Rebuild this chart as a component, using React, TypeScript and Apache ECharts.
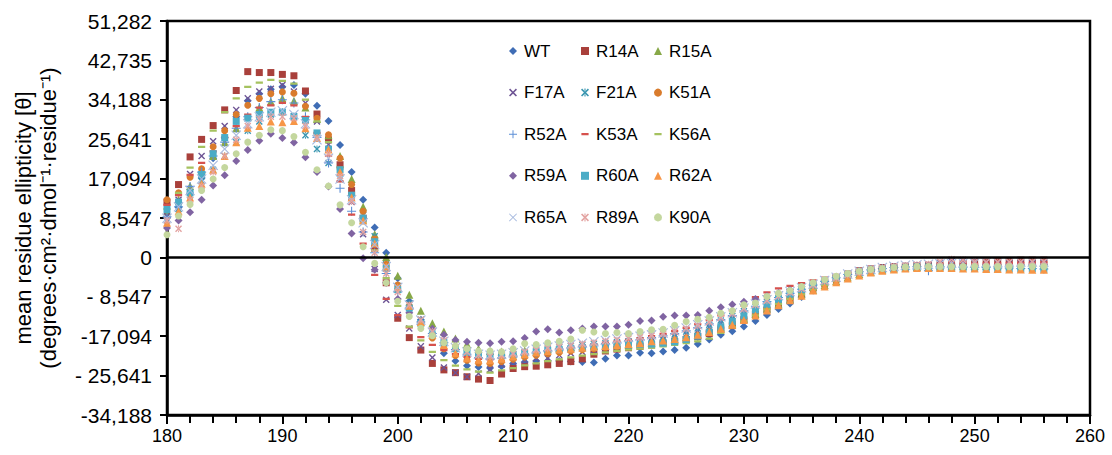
import React, { useEffect, useRef } from "react";
import * as echarts from "echarts";

const wavelengths = [
  180, 181, 182, 183, 184, 185, 186, 187, 188, 189,
  190, 191, 192, 193, 194, 195, 196, 197, 198, 199,
  200, 201, 202, 203, 204, 205, 206, 207, 208, 209,
  210, 211, 212, 213, 214, 215, 216, 217, 218, 219,
  220, 221, 222, 223, 224, 225, 226, 227, 228, 229,
  230, 231, 232, 233, 234, 235, 236, 237, 238, 239,
  240, 241, 242, 243, 244, 245, 246, 247, 248, 249,
  250, 251, 252, 253, 254, 255, 256,
];

// values in thousands of deg·cm²·dmol⁻¹·residue⁻¹
const WT = [
  8.6, 10.8, 13.8, 17.2, 21.5, 26.0, 30.5, 34.0, 35.5, 36.5,
  37.0, 37.4, 35.5, 32.9, 29.6, 24.4, 18.5, 12.5, 6.5, 1.0,
  -4.5, -9.5, -13.5, -17.0, -20.8, -22.5, -23.5, -23.8, -24.0, -23.6,
  -23.0, -22.7, -22.5, -22.4, -22.5, -22.6, -22.7, -22.8, -22.0, -21.3,
  -21.3, -20.7, -20.8, -20.4, -20.1, -19.6, -18.8, -17.8, -16.8, -16.0,
  -15.0, -13.8, -12.5, -11.2, -10.0, -8.6, -7.2, -6.0, -5.0, -4.2,
  -3.5, -3.0, -2.6, -2.4, -2.2, -2.1, -2.0, -2.0, -1.9, -1.9,
  -1.9, -1.8, -1.8, -1.8, -1.7, -1.7, -1.7,
];
const R14A = [
  12.0, 15.8, 21.8, 25.6, 28.6, 32.0, 36.2, 40.3, 40.1, 40.1,
  39.7, 39.4, 36.1, 31.1, 25.5, 20.1, 14.5, 8.5, 2.0, -5.5,
  -13.2, -17.4, -20.1, -23.0, -24.4, -25.0, -25.9, -26.4, -26.7, -25.3,
  -24.1, -23.7, -23.6, -23.3, -23.0, -22.6, -22.0, -21.0, -20.3, -19.9,
  -19.6, -19.3, -19.0, -18.6, -18.2, -17.8, -17.2, -16.5, -15.7, -14.8,
  -13.6, -12.4, -11.4, -10.2, -9.0, -7.8, -6.6, -5.5, -4.5, -3.6,
  -2.9, -2.5, -2.2, -2.0, -1.9, -1.8, -1.7, -1.6, -1.5, -1.3,
  -1.1, -1.0, -0.9, -0.7, -0.6, -0.6, -0.6,
];
const R15A = [
  10.0, 12.5, 15.5, 19.0, 22.0, 25.0, 28.0, 30.5, 32.5, 33.8,
  34.5, 34.0, 32.5, 30.0, 26.5, 22.0, 17.0, 11.0, 5.0, 0.1,
  -4.0, -8.1, -11.6, -14.3, -16.1, -17.6, -18.8, -19.8, -20.3, -20.4,
  -20.3, -20.2, -20.0, -19.8, -19.6, -19.4, -19.3, -19.2, -19.1, -19.0,
  -18.9, -18.7, -18.5, -18.2, -17.8, -17.3, -16.7, -16.0, -15.2, -14.3,
  -13.3, -12.2, -11.1, -10.0, -9.0, -8.0, -7.0, -6.0, -5.1, -4.3,
  -3.6, -3.1, -2.7, -2.4, -2.2, -2.1, -2.0, -1.9, -1.9, -1.8,
  -1.8, -1.8, -1.7, -1.7, -1.7, -1.7, -1.7,
];
const F17A = [
  9.0, 12.5, 18.1, 22.0, 25.2, 28.5, 32.0, 34.5, 36.0, 36.6,
  37.4, 36.0, 33.5, 29.5, 24.5, 18.5, 12.0, 5.0, -2.5, -9.2,
  -12.5, -15.4, -19.3, -21.7, -23.9, -25.0, -25.9, -25.2, -24.3, -23.3,
  -22.7, -22.3, -21.9, -21.9, -21.2, -20.8, -20.5, -20.2, -19.8, -19.4,
  -19.0, -18.6, -18.2, -17.8, -17.2, -16.6, -15.9, -15.1, -14.2, -13.3,
  -12.3, -11.3, -10.3, -9.3, -8.4, -7.5, -6.6, -5.7, -4.8, -4.0,
  -3.3, -2.8, -2.4, -2.1, -1.9, -1.7, -1.6, -1.2, -0.8, -0.6,
  -0.8, -1.0, -1.1, -1.2, -1.2, -1.2, -1.2,
];
const F21A = [
  8.0, 10.5, 13.5, 16.5, 19.0, 22.0, 25.0, 27.5, 29.5, 31.0,
  31.6, 30.7, 26.5, 23.5, 20.5, 17.0, 13.0, 9.2, 4.6, -1.5,
  -6.2, -10.0, -13.5, -16.3, -18.3, -19.8, -20.8, -21.4, -21.6, -21.4,
  -21.0, -20.6, -20.2, -19.8, -19.5, -19.2, -19.0, -18.8, -18.6, -18.4,
  -18.2, -17.9, -17.6, -17.2, -16.7, -16.1, -15.4, -14.6, -13.7, -12.7,
  -11.7, -10.7, -9.7, -8.8, -7.9, -7.0, -6.1, -5.2, -4.4, -3.7,
  -3.1, -2.6, -2.3, -2.1, -2.0, -1.9, -1.9, -1.9, -1.9, -1.9,
  -2.0, -2.0, -2.0, -2.1, -2.1, -2.1, -2.2,
];
const K51A = [
  12.5, 14.0, 17.4, 19.2, 24.0, 27.5, 31.0, 33.0, 34.5, 35.5,
  35.9, 35.6, 32.8, 30.2, 26.6, 21.5, 15.8, 10.0, 4.0, -1.5,
  -6.0, -10.5, -14.5, -17.5, -19.8, -21.3, -22.3, -22.9, -23.0, -22.6,
  -22.1, -21.6, -21.2, -20.9, -20.6, -20.3, -20.0, -19.8, -19.6, -19.4,
  -19.2, -19.0, -18.7, -18.4, -18.0, -17.5, -16.9, -16.1, -15.3, -14.3,
  -13.3, -12.2, -11.1, -10.0, -9.0, -8.0, -7.0, -6.0, -5.1, -4.3,
  -3.6, -3.1, -2.7, -2.4, -2.2, -2.1, -2.0, -2.0, -1.9, -1.9,
  -1.9, -1.9, -1.9, -1.8, -1.8, -1.8, -1.8,
];
const R52A = [
  8.8, 11.0, 15.4, 18.5, 22.0, 25.0, 28.0, 30.5, 32.5, 33.8,
  34.2, 33.5, 30.5, 26.0, 20.5, 15.0, 10.0, 5.5, 1.0, -3.5,
  -7.5, -11.0, -14.0, -16.5, -18.5, -20.0, -21.0, -21.7, -22.0, -21.8,
  -21.4, -21.0, -20.6, -20.2, -19.9, -19.6, -19.3, -19.0, -18.7, -18.4,
  -18.1, -17.8, -17.4, -17.0, -16.5, -15.9, -15.2, -14.4, -13.5, -12.6,
  -11.6, -10.6, -9.6, -8.7, -7.8, -6.9, -6.0, -5.2, -4.4, -3.7,
  -3.1, -2.7, -2.4, -2.2, -2.1, -2.0, -2.9, -2.0, -2.1, -2.1,
  -2.2, -2.2, -2.3, -2.3, -2.4, -2.4, -2.5,
];
const K53A = [
  11.4, 13.5, 17.9, 20.5, 23.0, 26.0, 28.5, 31.0, 32.5, 33.0,
  33.5, 33.0, 30.5, 27.0, 22.0, 16.5, 9.3, 3.0, -3.8, -9.0,
  -12.5, -15.2, -17.3, -19.0, -20.1, -21.0, -21.6, -22.0, -22.1, -21.8,
  -21.4, -21.0, -20.6, -20.2, -19.8, -19.4, -19.1, -18.8, -18.5, -18.2,
  -17.9, -17.5, -17.1, -16.6, -16.0, -15.3, -14.5, -13.6, -12.6, -11.5,
  -10.4, -8.6, -7.6, -6.7, -6.2, -5.6, -5.0, -4.4, -3.8, -3.3,
  -2.9, -2.5, -2.2, -2.0, -1.8, -1.7, -1.6, -1.5, -1.5, -1.4,
  -1.4, -1.3, -1.3, -1.2, -1.2, -1.2, -1.1,
];
const K56A = [
  10.5, 14.0, 19.5, 24.0, 27.5, 31.5, 34.5, 37.0, 37.9, 38.5,
  38.3, 37.7, 34.2, 29.5, 25.0, 19.5, 13.5, 7.5, 1.5, -4.5,
  -10.5, -15.0, -18.0, -20.5, -22.3, -23.5, -24.3, -24.8, -25.0, -24.5,
  -24.0, -23.4, -23.0, -22.5, -22.1, -21.7, -21.3, -21.0, -20.6, -20.3,
  -20.0, -19.8, -19.6, -19.3, -19.0, -18.6, -18.2, -17.6, -16.4, -15.2,
  -13.9, -12.6, -11.3, -10.1, -9.0, -8.0, -7.0, -6.0, -5.1, -4.3,
  -3.6, -3.1, -2.7, -2.4, -2.2, -2.1, -2.0, -1.9, -1.9, -1.8,
  -1.8, -1.8, -1.7, -1.7, -1.7, -1.6, -1.6,
];
const R59A = [
  6.4, 8.0, 9.8, 12.5, 15.6, 17.8, 20.9, 23.3, 25.3, 26.8,
  25.9, 24.9, 21.7, 18.5, 15.4, 10.5, 5.2, -0.2, -2.7, -5.5,
  -9.0, -12.0, -14.0, -15.5, -16.8, -17.9, -18.3, -18.5, -18.6, -18.3,
  -18.2, -17.5, -16.1, -15.6, -16.3, -15.8, -15.4, -15.0, -15.0, -15.0,
  -14.6, -13.8, -13.7, -12.9, -12.6, -12.6, -12.5, -11.6, -10.8, -10.2,
  -9.6, -9.0, -8.4, -7.7, -7.0, -6.3, -5.6, -4.9, -4.2, -3.6,
  -3.1, -2.7, -2.4, -2.2, -2.0, -1.9, -1.8, -1.8, -1.7, -1.7,
  -1.7, -1.6, -1.6, -1.6, -1.6, -1.5, -1.5,
];
const R60A = [
  10.4, 12.0, 14.0, 18.0, 22.5, 26.0, 29.5, 30.2, 31.0, 31.5,
  31.5, 30.5, 29.7, 27.0, 23.5, 19.0, 13.5, 8.5, 3.4, -2.4,
  -7.0, -11.0, -14.3, -16.8, -18.6, -19.8, -20.6, -21.1, -21.4, -21.3,
  -21.1, -20.8, -20.5, -20.2, -20.0, -19.8, -19.6, -19.4, -19.3, -19.1,
  -19.0, -18.9, -18.8, -18.6, -18.3, -17.8, -17.1, -16.2, -15.1, -13.9,
  -12.7, -11.4, -10.2, -9.1, -8.0, -7.0, -6.0, -5.1, -4.4, -3.8,
  -3.3, -2.9, -2.6, -2.4, -2.3, -2.2, -2.2, -2.2, -2.3, -2.3,
  -2.4, -2.4, -2.4, -2.5, -2.5, -2.5, -2.6,
];
const R62A = [
  7.5, 10.0, 13.0, 16.0, 19.0, 22.0, 25.0, 28.1, 28.5, 29.5,
  29.3, 29.6, 28.0, 25.9, 23.4, 18.5, 13.0, 8.0, 3.0, -2.0,
  -6.5, -10.5, -14.0, -16.8, -19.0, -20.8, -21.9, -22.2, -22.3, -22.0,
  -21.5, -21.0, -20.6, -20.3, -20.0, -19.8, -19.6, -19.4, -19.2, -19.0,
  -18.8, -18.6, -18.2, -18.0, -17.7, -17.3, -16.8, -16.2, -15.5, -14.6,
  -13.6, -12.6, -11.5, -10.4, -9.3, -8.3, -7.2, -6.3, -5.4, -4.6,
  -3.9, -3.3, -2.9, -2.6, -2.4, -2.3, -2.3, -2.3, -2.3, -2.4,
  -2.4, -2.5, -2.5, -2.6, -2.6, -2.7, -2.7,
];
const R65A = [
  8.5, 11.0, 14.5, 17.0, 20.0, 23.5, 26.5, 29.0, 30.5, 31.5,
  31.8, 31.0, 29.0, 25.5, 21.5, 17.0, 12.5, 7.5, 2.8, -2.0,
  -6.5, -10.3, -13.6, -16.2, -18.2, -19.6, -20.5, -21.0, -21.2, -21.0,
  -20.7, -20.3, -19.9, -19.5, -19.2, -18.9, -18.6, -18.3, -18.0, -17.7,
  -17.4, -17.1, -16.8, -16.4, -15.9, -15.3, -14.6, -13.8, -12.9, -12.0,
  -11.0, -10.1, -9.2, -8.3, -7.4, -6.6, -5.8, -5.0, -4.3, -3.6,
  -3.0, -2.6, -2.2, -1.9, -1.7, -1.6, -1.5, -1.4, -1.3, -1.2,
  -1.2, -1.1, -1.1, -1.0, -1.0, -1.0, -1.0,
];
const R89A = [
  8.0, 6.2, 12.5, 15.5, 18.5, 22.0, 25.5, 28.5, 30.0, 30.5,
  30.5, 30.2, 28.5, 26.0, 22.5, 17.6, 12.1, 5.5, 1.0, -3.5,
  -7.5, -10.3, -13.5, -16.0, -18.0, -19.5, -20.5, -21.2, -21.5, -21.3,
  -20.9, -20.5, -20.1, -19.7, -19.4, -19.1, -18.8, -18.5, -18.2, -17.9,
  -17.6, -17.3, -17.0, -16.6, -16.1, -15.5, -14.8, -14.0, -13.1, -12.2,
  -11.2, -10.3, -9.4, -8.5, -7.6, -6.8, -6.0, -5.2, -4.5, -3.8,
  -3.2, -2.7, -2.3, -2.0, -1.8, -1.6, -1.5, -0.9, -0.4, -0.5,
  -0.9, -1.0, -1.0, -1.0, -1.0, -0.9, -0.9,
];
const K90A = [
  4.9, 9.0, 11.5, 14.5, 17.0, 19.5, 22.5, 25.0, 26.5, 27.7,
  27.5, 26.2, 22.8, 19.0, 15.5, 11.4, 7.5, 2.3, -1.3, -5.5,
  -9.5, -12.8, -15.4, -17.0, -18.5, -19.2, -19.8, -20.3, -20.3, -20.5,
  -19.8, -18.7, -18.9, -18.5, -18.2, -17.7, -15.8, -16.2, -16.5, -16.3,
  -16.5, -16.1, -15.7, -15.6, -14.7, -13.9, -13.4, -13.0, -12.1, -11.6,
  -10.3, -9.9, -8.5, -7.8, -7.2, -6.3, -5.5, -4.8, -4.1, -3.5,
  -3.0, -2.6, -2.4, -2.2, -2.1, -2.0, -2.0, -2.0, -2.0, -2.0,
  -2.0, -2.0, -2.0, -2.0, -2.0, -2.0, -2.0,
];

const seriesNames = [
  "WT", "R14A", "R15A", "F17A", "F21A", "K51A", "R52A", "K53A",
  "K56A", "R59A", "R60A", "R62A", "R65A", "R89A", "K90A",
];
const seriesValues = [
  WT, R14A, R15A, F17A, F21A, K51A, R52A, K53A,
  K56A, R59A, R60A, R62A, R65A, R89A, K90A,
];
const seriesColors = [
  "#3F6DB5", "#A9403B", "#87A847", "#6E5494", "#3996B0", "#D97B2C", "#5B8ED6", "#D6514D",
  "#A5C25F", "#8064A2", "#4BACC6", "#F79646", "#A7BADF", "#E3A3A1", "#C4D79E",
];

const yTickLabels = [
  "-34,188", "- 25,641", "-17,094", "- 8,547", "0", "8,547",
  "17,094", "25,641", "34,188", "42,735", "51,282",
];
const Y_MIN = -34188;
const Y_MAX = 51282;
const Y_STEP = 8547;

const legendColumns = [
  ["WT", "F17A", "R52A", "R59A", "R65A"],
  ["R14A", "F21A", "K53A", "R60A", "R89A"],
  ["R15A", "K51A", "K56A", "R62A", "K90A"],
];

const X_PATH = "path://M0,1.4L1.4,0L5,3.6L8.6,0L10,1.4L6.4,5L10,8.6L8.6,10L5,6.4L1.4,10L0,8.6L3.6,5Z";
const THIN_X_PATH = "path://M0,0.8L0.8,0L5,4.2L9.2,0L10,0.8L5.8,5L10,9.2L9.2,10L5,5.8L0.8,10L0,9.2L4.2,5Z";
const STAR_PATH =
  "path://M0,1.4L1.4,0L5,3.6L8.6,0L10,1.4L6.4,5L10,8.6L8.6,10L5,6.4L1.4,10L0,8.6L3.6,5Z" +
  "M4.3,0H5.7V2.6H4.3Z M4.3,7.4H5.7V10H4.3Z";
const PLUS_PATH = "path://M4.4,0H5.6V4.4H10V5.6H5.6V10H4.4V5.6H0V4.4H4.4Z";
const DASH_PATH = "path://M0,0h0.02v0.02h-0.02Z M9.98,9.98h0.02v0.02h-0.02Z M0.5,3.6H9.5V6.4H0.5Z";

const seriesSymbols = [
  "diamond", "rect", "triangle", X_PATH, STAR_PATH, "circle", PLUS_PATH, DASH_PATH,
  DASH_PATH, "diamond", "rect", "triangle", THIN_X_PATH, STAR_PATH, "circle",
];
const seriesSizes = [8, 7, 8, 7, 7, 7, 9, 8, 8, 8, 7, 8, 10, 7, 7];

const FONT = '"Liberation Sans", Arial, sans-serif';

export default function App() {
  const ref = useRef<HTMLDivElement>(null);

  useEffect(() => {
    if (!ref.current) return;
    const chart = echarts.init(ref.current, undefined, { renderer: "svg" });

    const series: any[] = seriesNames.map((name, si) => ({
      name,
      type: "scatter",
      symbol: seriesSymbols[si],
      symbolSize: seriesSizes[si],
      itemStyle: { color: seriesColors[si], opacity: 1 },
      data: seriesValues[si].map((v, i) => [wavelengths[i], Math.round(v * 1000)]),
      ...(si === 0
        ? {
            markLine: {
              silent: true,
              symbol: ["none", "none"],
              label: { show: false },
              lineStyle: { color: "#000", width: 2.5, type: "solid" },
              data: [{ yAxis: 0 }],
            },
          }
        : {}),
    }));

    const legends = legendColumns.map((names, ci) => ({
      show: true,
      orient: "vertical",
      left: [504, 576, 649][ci],
      top: 36,
      itemWidth: 8,
      itemHeight: 8,
      itemGap: 21.6,
      selectedMode: false,
      data: names,
      textStyle: {
        fontFamily: FONT,
        fontSize: 17,
        color: "#000",
        lineHeight: 20,
        padding: [0, 0, 0, 2],
      },
    }));

    chart.setOption({
      animation: false,
      backgroundColor: "#fff",
      grid: {
        left: 167,
        right: 22,
        top: 21,
        bottom: 40,
        show: true,
        borderColor: "#000",
        borderWidth: 2.5,
        backgroundColor: "transparent",
      },
      legend: legends,
      xAxis: {
        type: "value",
        min: 180,
        max: 260,
        interval: 10,
        axisLine: { show: true, onZero: false, lineStyle: { color: "#000", width: 2.5 } },
        axisTick: { show: true, length: 9, lineStyle: { color: "#000", width: 2 } },
        minorTick: { show: true, splitNumber: 5, length: 8, lineStyle: { color: "#000", width: 2 } },
        splitLine: { show: false },
        axisLabel: { fontFamily: FONT, fontSize: 18, color: "#000", margin: 12 },
      },
      yAxis: {
        type: "value",
        min: Y_MIN,
        max: Y_MAX,
        interval: Y_STEP,
        axisLine: { show: true, lineStyle: { color: "#000", width: 2.5 } },
        axisTick: { show: true, length: 7, lineStyle: { color: "#000", width: 2 } },
        splitLine: { show: false },
        axisLabel: {
          fontFamily: FONT,
          fontSize: 21,
          color: "#000",
          margin: 15,
          formatter: (v: number) => {
            const idx = Math.round((v - Y_MIN) / Y_STEP);
            return yTickLabels[idx] ?? "";
          },
        },
      },
      graphic: [
        {
          type: "text",
          x: 23,
          y: 218,
          rotation: Math.PI / 2,
          style: {
            text: "mean residue ellipticity [θ]",
            font: `22px ${FONT}`,
            fill: "#000",
            textAlign: "center",
            textVerticalAlign: "middle",
          },
        },
        {
          type: "text",
          x: 48,
          y: 218,
          rotation: Math.PI / 2,
          style: {
            text: "(degrees·cm²·dmol⁻¹·residue⁻¹)",
            font: `22px ${FONT}`,
            fill: "#000",
            textAlign: "center",
            textVerticalAlign: "middle",
          },
        },
      ],
      series,
    });

    return () => {
      chart.dispose();
    };
  }, []);

  return (
    <div
      ref={ref}
      style={{ position: "fixed", left: 0, top: 0, width: 1112, height: 455, background: "#fff" }}
    />
  );
}
